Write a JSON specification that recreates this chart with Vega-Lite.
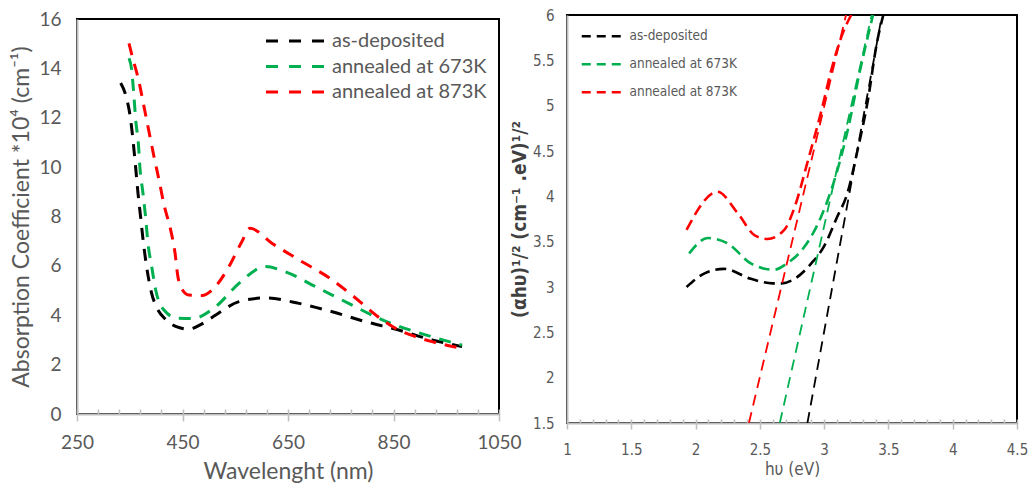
{
  "$schema": "https://vega.github.io/schema/vega-lite/v6.json",
  "background": "white",
  "padding": {"left": 9, "top": 7, "right": 5, "bottom": 5},
  "bounds": "full",
  "spacing": -14,
  "config": {
    "view": {"stroke": "#000000", "strokeWidth": 2},
    "axis": {"domainColor": "#BFBFBF", "domainWidth": 2, "tickColor": "#BFBFBF", "tickWidth": 1.5, "grid": false, "labelColor": "#595959", "titleColor": "#595959", "titleFontWeight": "normal"}
  },
  "datasets": {
    "abs": [
      {"wavelength": 332.8, "A": 13.41, "sample": "as-deposited"},
      {"wavelength": 342.3, "A": 12.92, "sample": "as-deposited"},
      {"wavelength": 351.8, "A": 11.91, "sample": "as-deposited"},
      {"wavelength": 356.7, "A": 10.98, "sample": "as-deposited"},
      {"wavelength": 361.3, "A": 9.96, "sample": "as-deposited"},
      {"wavelength": 365.6, "A": 8.95, "sample": "as-deposited"},
      {"wavelength": 370.8, "A": 7.94, "sample": "as-deposited"},
      {"wavelength": 375.7, "A": 6.97, "sample": "as-deposited"},
      {"wavelength": 382.1, "A": 5.95, "sample": "as-deposited"},
      {"wavelength": 390.9, "A": 4.94, "sample": "as-deposited"},
      {"wavelength": 401.7, "A": 4.29, "sample": "as-deposited"},
      {"wavelength": 420, "A": 3.8, "sample": "as-deposited"},
      {"wavelength": 437, "A": 3.55, "sample": "as-deposited"},
      {"wavelength": 462, "A": 3.44, "sample": "as-deposited"},
      {"wavelength": 487, "A": 3.65, "sample": "as-deposited"},
      {"wavelength": 513, "A": 4.01, "sample": "as-deposited"},
      {"wavelength": 557, "A": 4.55, "sample": "as-deposited"},
      {"wavelength": 607, "A": 4.7, "sample": "as-deposited"},
      {"wavelength": 671, "A": 4.48, "sample": "as-deposited"},
      {"wavelength": 734, "A": 4.14, "sample": "as-deposited"},
      {"wavelength": 797, "A": 3.74, "sample": "as-deposited"},
      {"wavelength": 860, "A": 3.4, "sample": "as-deposited"},
      {"wavelength": 923, "A": 3.0, "sample": "as-deposited"},
      {"wavelength": 980, "A": 2.73, "sample": "as-deposited"},
      {"wavelength": 348.6, "A": 14.41, "sample": "annealed at 673K"},
      {"wavelength": 353.7, "A": 13.93, "sample": "annealed at 673K"},
      {"wavelength": 358, "A": 12.85, "sample": "annealed at 673K"},
      {"wavelength": 361.3, "A": 11.91, "sample": "annealed at 673K"},
      {"wavelength": 366.3, "A": 10.96, "sample": "annealed at 673K"},
      {"wavelength": 369.4, "A": 9.95, "sample": "annealed at 673K"},
      {"wavelength": 375.1, "A": 8.94, "sample": "annealed at 673K"},
      {"wavelength": 380.2, "A": 7.93, "sample": "annealed at 673K"},
      {"wavelength": 384.6, "A": 6.91, "sample": "annealed at 673K"},
      {"wavelength": 391.6, "A": 5.97, "sample": "annealed at 673K"},
      {"wavelength": 399.2, "A": 5.02, "sample": "annealed at 673K"},
      {"wavelength": 415, "A": 4.21, "sample": "annealed at 673K"},
      {"wavelength": 440, "A": 3.88, "sample": "annealed at 673K"},
      {"wavelength": 470, "A": 3.87, "sample": "annealed at 673K"},
      {"wavelength": 513, "A": 4.35, "sample": "annealed at 673K"},
      {"wavelength": 557, "A": 5.29, "sample": "annealed at 673K"},
      {"wavelength": 607, "A": 5.97, "sample": "annealed at 673K"},
      {"wavelength": 645, "A": 5.76, "sample": "annealed at 673K"},
      {"wavelength": 702, "A": 5.16, "sample": "annealed at 673K"},
      {"wavelength": 765, "A": 4.48, "sample": "annealed at 673K"},
      {"wavelength": 829, "A": 3.81, "sample": "annealed at 673K"},
      {"wavelength": 892, "A": 3.33, "sample": "annealed at 673K"},
      {"wavelength": 980, "A": 2.79, "sample": "annealed at 673K"},
      {"wavelength": 348.6, "A": 15.01, "sample": "annealed at 873K"},
      {"wavelength": 354.9, "A": 14.47, "sample": "annealed at 873K"},
      {"wavelength": 367.5, "A": 13.46, "sample": "annealed at 873K"},
      {"wavelength": 377, "A": 12.45, "sample": "annealed at 873K"},
      {"wavelength": 386.5, "A": 11.43, "sample": "annealed at 873K"},
      {"wavelength": 396, "A": 10.42, "sample": "annealed at 873K"},
      {"wavelength": 405.5, "A": 9.48, "sample": "annealed at 873K"},
      {"wavelength": 415, "A": 8.47, "sample": "annealed at 873K"},
      {"wavelength": 427.6, "A": 7.45, "sample": "annealed at 873K"},
      {"wavelength": 436, "A": 6.5, "sample": "annealed at 873K"},
      {"wavelength": 441, "A": 5.6, "sample": "annealed at 873K"},
      {"wavelength": 448, "A": 5.1, "sample": "annealed at 873K"},
      {"wavelength": 462, "A": 4.82, "sample": "annealed at 873K"},
      {"wavelength": 487, "A": 4.8, "sample": "annealed at 873K"},
      {"wavelength": 506, "A": 5.02, "sample": "annealed at 873K"},
      {"wavelength": 538, "A": 5.97, "sample": "annealed at 873K"},
      {"wavelength": 563, "A": 7.0, "sample": "annealed at 873K"},
      {"wavelength": 578, "A": 7.52, "sample": "annealed at 873K"},
      {"wavelength": 620, "A": 6.91, "sample": "annealed at 873K"},
      {"wavelength": 671, "A": 6.24, "sample": "annealed at 873K"},
      {"wavelength": 734, "A": 5.43, "sample": "annealed at 873K"},
      {"wavelength": 772, "A": 4.8, "sample": "annealed at 873K"},
      {"wavelength": 829, "A": 3.81, "sample": "annealed at 873K"},
      {"wavelength": 860, "A": 3.4, "sample": "annealed at 873K"},
      {"wavelength": 892, "A": 3.13, "sample": "annealed at 873K"},
      {"wavelength": 923, "A": 2.93, "sample": "annealed at 873K"},
      {"wavelength": 980, "A": 2.66, "sample": "annealed at 873K"}
    ],
    "tauc": [
      {"E": 1.93, "v": 3.0, "sample": "as-deposited"},
      {"E": 2.07, "v": 3.15, "sample": "as-deposited"},
      {"E": 2.22, "v": 3.2, "sample": "as-deposited"},
      {"E": 2.43, "v": 3.09, "sample": "as-deposited"},
      {"E": 2.6, "v": 3.04, "sample": "as-deposited"},
      {"E": 2.67, "v": 3.04, "sample": "as-deposited"},
      {"E": 2.77, "v": 3.09, "sample": "as-deposited"},
      {"E": 2.9, "v": 3.26, "sample": "as-deposited"},
      {"E": 3.0, "v": 3.45, "sample": "as-deposited"},
      {"E": 3.1, "v": 3.77, "sample": "as-deposited"},
      {"E": 3.18, "v": 4.03, "sample": "as-deposited"},
      {"E": 3.26, "v": 4.51, "sample": "as-deposited"},
      {"E": 3.34, "v": 5.06, "sample": "as-deposited"},
      {"E": 3.41, "v": 5.69, "sample": "as-deposited"},
      {"E": 3.46, "v": 6.0, "sample": "as-deposited"},
      {"E": 1.95, "v": 3.37, "sample": "annealed at 673K"},
      {"E": 2.095, "v": 3.54, "sample": "annealed at 673K"},
      {"E": 2.25, "v": 3.48, "sample": "annealed at 673K"},
      {"E": 2.43, "v": 3.26, "sample": "annealed at 673K"},
      {"E": 2.61, "v": 3.19, "sample": "annealed at 673K"},
      {"E": 2.71, "v": 3.26, "sample": "annealed at 673K"},
      {"E": 2.845, "v": 3.44, "sample": "annealed at 673K"},
      {"E": 2.975, "v": 3.77, "sample": "annealed at 673K"},
      {"E": 3.08, "v": 4.18, "sample": "annealed at 673K"},
      {"E": 3.19, "v": 4.77, "sample": "annealed at 673K"},
      {"E": 3.275, "v": 5.36, "sample": "annealed at 673K"},
      {"E": 3.38, "v": 6.0, "sample": "annealed at 673K"},
      {"E": 1.93, "v": 3.63, "sample": "annealed at 873K"},
      {"E": 2.17, "v": 4.05, "sample": "annealed at 873K"},
      {"E": 2.33, "v": 3.81, "sample": "annealed at 873K"},
      {"E": 2.46, "v": 3.57, "sample": "annealed at 873K"},
      {"E": 2.56, "v": 3.53, "sample": "annealed at 873K"},
      {"E": 2.69, "v": 3.63, "sample": "annealed at 873K"},
      {"E": 2.77, "v": 3.88, "sample": "annealed at 873K"},
      {"E": 2.875, "v": 4.4, "sample": "annealed at 873K"},
      {"E": 2.98, "v": 4.95, "sample": "annealed at 873K"},
      {"E": 3.055, "v": 5.39, "sample": "annealed at 873K"},
      {"E": 3.145, "v": 5.8, "sample": "annealed at 873K"},
      {"E": 3.21, "v": 6.0, "sample": "annealed at 873K"}
    ],
    "fit": [
      {"E": 2.87, "v": 1.5, "sample": "as-deposited"},
      {"E": 3.45, "v": 6.0, "sample": "as-deposited"},
      {"E": 2.655, "v": 1.5, "sample": "annealed at 673K"},
      {"E": 3.37, "v": 6.0, "sample": "annealed at 673K"},
      {"E": 2.415, "v": 1.5, "sample": "annealed at 873K"},
      {"E": 3.17, "v": 6.0, "sample": "annealed at 873K"}
    ]
  },
  "hconcat": [
    {
      "vconcat": [
        {
          "width": 422,
          "height": 1,
          "view": {"stroke": null},
          "data": {"values": []},
          "mark": {"type": "point", "opacity": 0},
          "encoding": {}
        },
        {
          "width": 422,
          "height": 395,
          "data": {"name": "abs"},
          "encoding": {
            "y": {"field": "A", "type": "quantitative", "scale": {"domain": [0, 16], "nice": false},
              "axis": {"values": [0, 2, 4, 6, 8, 10, 12, 14, 16], "title": "Absorption Coefficient *10⁴ (cm⁻¹)", "ticks": false, "labelPadding": 16, "titlePadding": 5, "labelFont": "Lato", "labelFontSize": 19, "titleFont": "Lato", "titleFontSize": 23}}
          },
          "layer": [
            {
              "mark": {"type": "line", "strokeWidth": 3, "strokeDash": [12, 9], "interpolate": "monotone", "clip": true},
              "encoding": {
                "x": {"field": "wavelength", "type": "quantitative", "scale": {"domain": [250, 1050], "nice": false, "zero": false},
                  "axis": {"orient": "bottom", "values": [250, 450, 650, 850, 1050], "format": "d", "title": "Wavelenght (nm)", "tickSize": 7, "labelPadding": 12, "titlePadding": 8, "labelFlush": false, "labelOverlap": false, "labelFont": "Lato", "labelFontSize": 19, "titleFont": "Lato", "titleFontSize": 23}},
                "color": {"field": "sample", "type": "nominal",
                  "scale": {"domain": ["as-deposited", "annealed at 673K", "annealed at 873K"], "range": ["#000000", "#00B050", "#FF0000"]},
                  "legend": {"orient": "none", "legendX": 209, "legendY": 16, "title": null, "symbolType": "M-6,0H6", "symbolSize": 100, "symbolStrokeWidth": 3, "symbolDash": [12, 11], "labelFont": "Lato", "labelFontSize": 20, "labelColor": "#595959", "labelOffset": 26, "rowPadding": 5.5, "padding": 0}}
              }
            },
            {
              "mark": {"type": "point", "opacity": 0},
              "encoding": {
                "x": {"field": "wavelength", "type": "quantitative",
                  "axis": {"orient": "bottom", "values": [250, 290, 330, 370, 410, 450, 490, 530, 570, 610, 650, 690, 730, 770, 810, 850, 890, 930, 970, 1010, 1050], "tickSize": -5, "labels": false, "domain": false, "title": null}}
              }
            }
          ],
          "resolve": {"axis": {"x": "independent"}}
        }
      ],
      "spacing": -7
    },
    {
      "width": 450,
      "height": 408,
      "encoding": {
        "y": {"field": "v", "type": "quantitative", "scale": {"domain": [1.5, 6], "nice": false, "zero": false},
          "axis": {"values": [1.5, 2, 2.5, 3, 3.5, 4, 4.5, 5, 5.5, 6], "format": "~g", "title": "(αhυ)¹/² (cm⁻¹ .eV)¹/²", "ticks": false, "labelPadding": 13, "titlePadding": 3, "labelFont": "DejaVu Sans Condensed, Roboto", "labelFontSize": 15, "titleFont": "DejaVu Sans Condensed, Roboto", "titleFontSize": 19, "titleFontWeight": "bold", "titleColor": "#404040"}}
      },
      "layer": [
        {
          "data": {"name": "tauc"},
          "mark": {"type": "line", "strokeWidth": 2.6, "strokeDash": [11, 6], "interpolate": "monotone", "clip": true},
          "encoding": {
            "x": {"field": "E", "type": "quantitative", "scale": {"domain": [1, 4.5], "nice": false, "zero": false},
              "axis": {"orient": "bottom", "values": [1, 1.5, 2, 2.5, 3, 3.5, 4, 4.5], "format": "~g", "title": "hυ (eV)", "tickSize": 6, "labelPadding": 13, "titlePadding": 4, "labelFlush": false, "labelOverlap": false, "labelFont": "DejaVu Sans Condensed, Roboto", "labelFontSize": 15, "titleFont": "DejaVu Sans Condensed, Roboto", "titleFontSize": 17}},
            "color": {"field": "sample", "type": "nominal",
              "scale": {"domain": ["as-deposited", "annealed at 673K", "annealed at 873K"], "range": ["#000000", "#00B050", "#FF0000"]},
              "legend": {"orient": "none", "legendX": 30, "legendY": 14.5, "title": null, "symbolType": "M-4.4,0H4.4", "symbolSize": 100, "symbolStrokeWidth": 2.6, "symbolDash": [9, 6], "labelFont": "DejaVu Sans Condensed, Roboto", "labelFontSize": 13.5, "labelColor": "#595959", "labelOffset": 19, "rowPadding": 13, "padding": 0}}
          }
        },
        {
          "data": {"name": "fit"},
          "mark": {"type": "line", "strokeWidth": 1.8, "strokeDash": [11, 7], "clip": true},
          "encoding": {
            "x": {"field": "E", "type": "quantitative", "axis": null},
            "color": {"field": "sample", "type": "nominal", "legend": null}
          }
        },
        {
          "data": {"name": "fit"},
          "mark": {"type": "point", "opacity": 0},
          "encoding": {
            "x": {"field": "E", "type": "quantitative",
              "axis": {"orient": "bottom", "values": [1, 1.1, 1.2, 1.3, 1.4, 1.5, 1.6, 1.7, 1.8, 1.9, 2, 2.1, 2.2, 2.3, 2.4, 2.5, 2.6, 2.7, 2.8, 2.9, 3, 3.1, 3.2, 3.3, 3.4, 3.5, 3.6, 3.7, 3.8, 3.9, 4, 4.1, 4.2, 4.3, 4.4, 4.5], "tickSize": -4, "labels": false, "domain": false, "title": null}}
          }
        }
      ],
      "resolve": {"axis": {"x": "independent"}, "legend": {"color": "independent"}}
    }
  ]
}
